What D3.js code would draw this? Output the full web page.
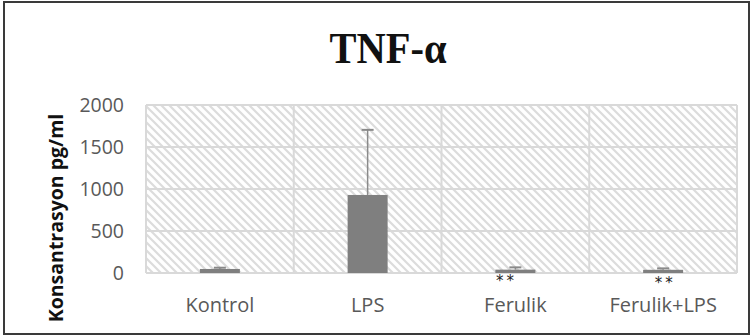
<!DOCTYPE html>
<html>
<head>
<meta charset="utf-8">
<script src="https://cdn.jsdelivr.net/npm/d3@7"></script>
<style>
  body { margin: 0; background: #fff; }
  svg { display: block; }
</style>
</head>
<body>
<svg id="chart" width="753" height="336"></svg>
<script>
const categories = ["Kontrol", "LPS", "Ferulik", "Ferulik+LPS"];
const means = [48, 929, 40, 38];
const errors = [15, 775, 27, 17];
const marks = ["", "", "**", "**"];
const yTicks = [0, 500, 1000, 1500, 2000];

const W = 753, H = 336;
const margin = { top: 105, right: 16, bottom: 63, left: 146 };

const svg = d3.select("#chart");

// outer frame
svg.append("rect")
    .attr("x", 4).attr("y", 2)
    .attr("width", W - 8).attr("height", H - 4)
    .attr("fill", "#fff")
    .attr("stroke", "#3a3a3a")
    .attr("stroke-width", 2);

// hatch fill of the plot area
const defs = svg.append("defs");
const pat = defs.append("pattern")
    .attr("id", "hatch")
    .attr("patternUnits", "userSpaceOnUse")
    .attr("width", 8).attr("height", 8);
pat.append("rect").attr("width", 8).attr("height", 8).attr("fill", "#fff");
pat.append("path")
    .attr("d", "M-2,-2 L10,10 M-2,6 L2,10 M6,-2 L10,2")
    .attr("stroke", "#dcdcdc")
    .attr("stroke-width", 2.2);

const x = d3.scaleBand()
    .domain(categories)
    .range([margin.left, W - margin.right])
    .paddingInner(0)
    .paddingOuter(0);

const y = d3.scaleLinear()
    .domain([0, 2000])
    .range([H - margin.bottom, margin.top]);

svg.append("rect")
    .attr("x", margin.left).attr("y", margin.top)
    .attr("width", W - margin.right - margin.left)
    .attr("height", H - margin.bottom - margin.top)
    .attr("fill", "url(#hatch)");

// gridlines
svg.append("g").selectAll("line.h")
    .data(yTicks)
    .join("line")
    .attr("x1", margin.left).attr("x2", W - margin.right)
    .attr("y1", d => y(d)).attr("y2", d => y(d))
    .attr("stroke", "#d9d9d9")
    .attr("stroke-width", 2);

const bounds = categories.map(c => x(c)).concat([W - margin.right]);
svg.append("g").selectAll("line.v")
    .data(bounds)
    .join("line")
    .attr("x1", d => d).attr("x2", d => d)
    .attr("y1", margin.top).attr("y2", H - margin.bottom)
    .attr("stroke", "#d9d9d9")
    .attr("stroke-width", 2);

// y axis labels
const yAxis = d3.axisLeft(y)
    .tickValues(yTicks)
    .tickFormat(d3.format("d"))
    .tickSize(0).tickPadding(22);
const gy = svg.append("g")
    .attr("transform", `translate(${margin.left},0)`)
    .call(yAxis);
gy.select(".domain").remove();
gy.selectAll("text")
    .attr("fill", "#595959")
    .style("font-family", "'Open Sans', sans-serif")
    .style("font-size", "19.5px");

// x axis labels
const xAxis = d3.axisBottom(x).tickSize(0).tickPadding(25);
const gx = svg.append("g")
    .attr("transform", `translate(0,${H - margin.bottom})`)
    .call(xAxis);
gx.select(".domain").remove();
gx.selectAll("text")
    .attr("fill", "#595959")
    .style("font-family", "'Open Sans', sans-serif")
    .style("font-size", "20px");

const barW = 40;
const capW = 12;
const cx = d => x(d) + x.bandwidth() / 2;

// error bars
const eb = svg.append("g").selectAll("g")
    .data(categories)
    .join("g");
eb.append("line")
    .attr("x1", cx).attr("x2", cx)
    .attr("y1", (d, i) => y(means[i]))
    .attr("y2", (d, i) => y(means[i] + errors[i]))
    .attr("stroke", "#8a8a8a")
    .attr("stroke-width", 1.5);
eb.append("line")
    .attr("x1", d => cx(d) - capW / 2).attr("x2", d => cx(d) + capW / 2)
    .attr("y1", (d, i) => y(means[i] + errors[i]))
    .attr("y2", (d, i) => y(means[i] + errors[i]))
    .attr("stroke", "#8a8a8a")
    .attr("stroke-width", 2);

// bars
svg.append("g").selectAll("rect")
    .data(categories)
    .join("rect")
    .attr("x", d => cx(d) - barW / 2)
    .attr("width", barW)
    .attr("y", (d, i) => y(means[i]))
    .attr("height", (d, i) => y(0) - y(means[i]))
    .attr("fill", "#7f7f7f");

// significance marks
svg.append("g").selectAll("text")
    .data(categories)
    .join("text")
    .attr("x", (d, i) => cx(d) + (i === 2 ? -9 : 2))
    .attr("y", (d, i) => y(0) + (i === 2 ? 12.5 : 14.5))
    .attr("text-anchor", "middle")
    .style("font-family", "'DejaVu Sans', sans-serif")
    .style("font-size", "15px")
    .style("letter-spacing", "3px")
    .attr("fill", "#222")
    .text((d, i) => marks[i]);

// title
svg.append("text")
    .attr("x", 388).attr("y", 63)
    .attr("text-anchor", "middle")
    .attr("textLength", 117)
    .attr("lengthAdjust", "spacingAndGlyphs")
    .style("font-family", "'Liberation Serif', serif")
    .style("font-weight", "bold")
    .style("font-size", "44px")
    .attr("fill", "#111")
    .text("TNF-α");

// y title
svg.append("text")
    .attr("transform", "translate(63,218) rotate(-90)")
    .attr("text-anchor", "middle")
    .style("font-family", "'Open Sans', sans-serif")
    .style("font-weight", "bold")
    .style("font-size", "19.5px")
    .attr("fill", "#111")
    .text("Konsantrasyon pg/ml");
</script>
</body>
</html>
